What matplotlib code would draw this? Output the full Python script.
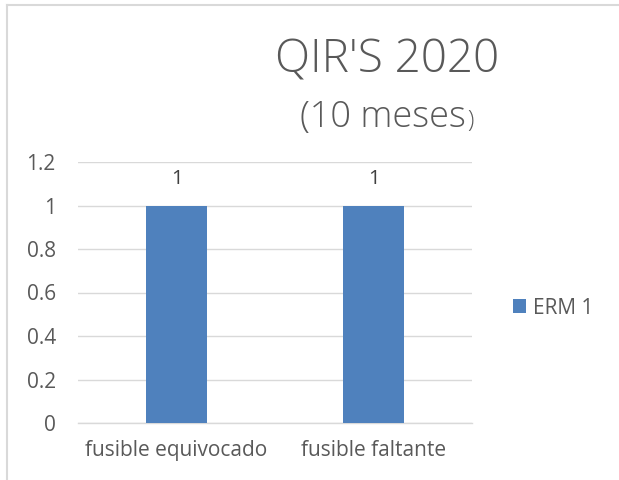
import matplotlib
matplotlib.use("Agg")
import matplotlib.pyplot as plt
from matplotlib.lines import Line2D

categories = ["fusible equivocado", "fusible faltante"]
values = [1, 1]
series_name = "ERM 1"
yticks = [0, 0.2, 0.4, 0.6, 0.8, 1.0, 1.2]
ytick_labels = ["0", "0.2", "0.4", "0.6", "0.8", "1", "1.2"]

plt.rcParams['font.family'] = ['Open Sans', 'DejaVu Sans']
txt = '#595959'
grid = '#d9d9d9'
bar_color = '#4f81bd'

fig = plt.figure(figsize=(6.19, 4.8), dpi=100)
ax = fig.add_axes([78/619, 57/480, 394/619, 261/480])

x = list(range(len(categories)))
bars = ax.bar(x, values, width=0.31, color=bar_color, label=series_name, zorder=3)
for xi, v in zip(x, values):
    ax.annotate(f"{v:g}", (xi, v), xytext=(0, 19), textcoords='offset points',
                ha='center', va='center', fontsize=14.5, color='#404040')

ax.set_xlim(-0.5, len(categories) - 0.5)
ax.set_ylim(0, 1.2)
ax.set_yticks(yticks)
ax.set_yticklabels(ytick_labels, fontsize=15, color=txt)
ax.set_xticks(x)
ax.set_xticklabels(categories, fontsize=15, color=txt)
ax.tick_params(axis='both', length=0)
ax.tick_params(axis='y', pad=16)
ax.tick_params(axis='x', pad=12)
ax.yaxis.grid(True, color=grid, linewidth=1, zorder=0)
for s in ['top', 'right', 'left']:
    ax.spines[s].set_visible(False)
ax.spines['bottom'].set_color(grid)
ax.spines['bottom'].set_linewidth(1)

fig.text(387/619, 1 - 73/480, "QIR'S 2020", ha='center', va='baseline', fontsize=33,
         color=txt, fontweight='light')
t1 = fig.text(300/619, 1 - 127/480, "(10 meses", ha='left', va='baseline', fontsize=26,
              color=txt, fontweight='light')
fig.canvas.draw()
bb = t1.get_window_extent()
fig.text((bb.x1 + 1) / 619, 1 - 127/480, ")", ha='left', va='baseline', fontsize=17,
         color=txt, fontweight='light')

ax.legend(loc='center left', bbox_to_anchor=(494/619, 1 - 308/480), bbox_transform=fig.transFigure,
          frameon=False, fontsize=15, labelcolor=txt, handlelength=0.65, handleheight=0.65,
          handletextpad=0.3)

fig.add_artist(Line2D([7/619, 7/619], [0, 1 - 5/480], transform=fig.transFigure, color=grid, linewidth=1.5))
fig.add_artist(Line2D([7/619, 1], [1 - 5/480, 1 - 5/480], transform=fig.transFigure, color=grid, linewidth=1.5))

fig.savefig("out.png", dpi=100, facecolor='white')
